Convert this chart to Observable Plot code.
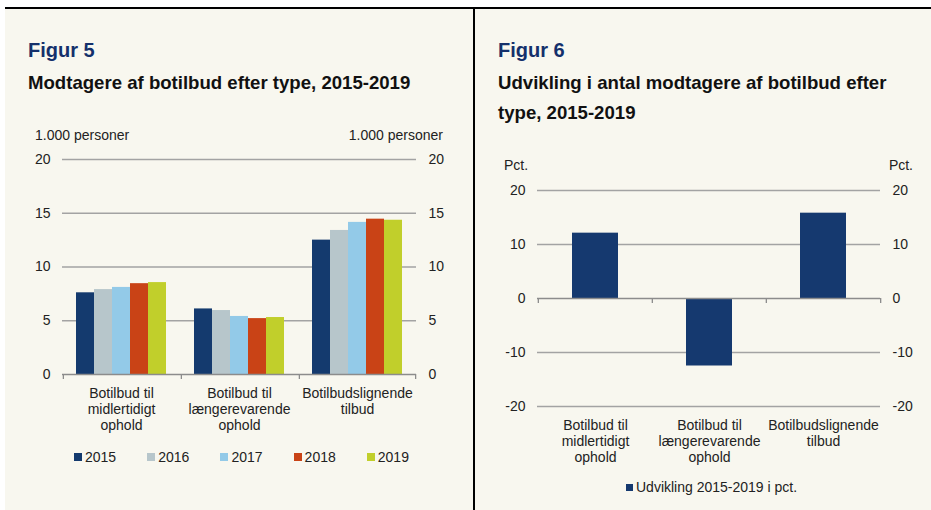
<!DOCTYPE html>
<html>
<head>
<meta charset="utf-8">
<script src="https://cdn.jsdelivr.net/npm/d3@7"></script>
<script src="https://cdn.jsdelivr.net/npm/@observablehq/plot@0.6"></script>
<style>
  html, body { margin: 0; padding: 0; background: #ffffff; }
  #root { position: relative; width: 931px; height: 510px; overflow: hidden; font-family: "Liberation Sans", Arial, sans-serif; color: #1e1e1e; }
  #frame { position: absolute; left: 5px; top: 7px; right: 0; bottom: 0; background: #f8f7ef; border-top: 2px solid #000; }
  #divider { position: absolute; left: 473px; top: 7px; width: 2px; bottom: 0; background: #000; }
  .abs { position: absolute; white-space: nowrap; }
  .fig { font-weight: bold; font-size: 20px; line-height: 20px; color: #14306b; }
  .sub { font-weight: bold; font-size: 18.6px; line-height: 30px; color: #111; }
  .unit { font-size: 14px; line-height: 14px; color: #222; }
  .leg { position: absolute; font-size: 14px; line-height: 14px; height: 14px; color: #222; white-space: nowrap; }
  .leg .sw { position: absolute; left: 0; top: 3px; width: 8px; height: 8px; }
  .leg .tx { position: absolute; left: 11px; top: 0; }
  svg.chart { position: absolute; }
</style>
</head>
<body>
<div id="root">
  <div id="frame"></div>
  <div id="divider"></div>
  <div class="abs fig" style="left:28px; top:40px;">Figur 5</div>
  <div class="abs sub" style="left:28px; top:68px;">Modtagere af botilbud efter type, 2015-2019</div>
  <div class="abs unit" style="left:35px; top:128px;">1.000 personer</div>
  <div class="abs unit" style="right:488px; top:128px;">1.000 personer</div>

  <div class="abs fig" style="left:498px; top:40px;">Figur 6</div>
  <div class="abs sub" style="left:498px; top:68px;">Udvikling i antal modtagere af botilbud efter<br>type, 2015-2019</div>
  <div class="abs unit" style="left:504px; top:158px;">Pct.</div>
  <div class="abs unit" style="right:18px; top:158px;">Pct.</div>
</div>
<script>
// ---- data ----
const categories = [
  "Botilbud til\nmidlertidigt\nophold",
  "Botilbud til\nlængerevarende\nophold",
  "Botilbudslignende\ntilbud"
];
const years = ["2015", "2016", "2017", "2018", "2019"];
const values2015 = [7.6, 6.1, 12.5];
const values2016 = [7.9, 5.95, 13.4];
const values2017 = [8.1, 5.4, 14.15];
const values2018 = [8.45, 5.2, 14.45];
const values2019 = [8.55, 5.3, 14.35];
const yearColors = ["#143a6e", "#b7c6cb", "#93cae8", "#c94316", "#c1cf2b"];
const leftTicks = [0, 5, 10, 15, 20];

const changePct = [12.1, -12.5, 15.8];
const changeLabel = "Udvikling 2015-2019 i pct.";
const changeColor = "#15396f";
const rightTicks = [-20, -10, 0, 10, 20];

// ---- build tables ----
const seriesByYear = [values2015, values2016, values2017, values2018, values2019];
const leftData = [];
years.forEach((y, yi) => categories.forEach((c, ci) => leftData.push({cat: c, year: y, value: seriesByYear[yi][ci]})));
const rightData = categories.map((c, i) => ({cat: c, value: changePct[i]}));

const root = document.getElementById("root");
const font = "\"Liberation Sans\", Arial, sans-serif";
const gridColor = "#a3a3a3";
const axisColor = "#8c8c8c";

// ---- left chart ----
const L = {width: 470, height: 296, ml: 62, mr: 54, mt: 14, mb: 67, po: 0.7};
const facetW = (L.width - L.ml - L.mr) / categories.length;
const step = facetW / (years.length + 2 * L.po);
const edge = (L.po + 0.5) * step;

const left = Plot.plot({
  width: L.width, height: L.height,
  marginLeft: L.ml, marginRight: L.mr, marginTop: L.mt, marginBottom: L.mb,
  style: {background: "transparent", overflow: "visible", fontFamily: font, fontSize: "14px", color: "#222", maxWidth: "none"},
  fx: {domain: categories, padding: 0, axis: null, label: null},
  x: {domain: years, paddingInner: 0, paddingOuter: L.po, axis: null, label: null},
  y: {domain: [0, 20], axis: null, label: null},
  color: {domain: years, range: yearColors},
  marks: [
    Plot.gridY(leftTicks.filter(d => d !== 0), {stroke: gridColor, strokeOpacity: 1, strokeWidth: 1.3}),
    Plot.barY(leftData, {fx: "cat", x: "year", y: "value", fill: "year"}),
    Plot.ruleY([0], {stroke: axisColor, strokeWidth: 1.3}),
    Plot.ruleX(categories, {fx: d => d, x: () => years[0], y1: 0, y2: 0, insetBottom: -5, dx: -edge, stroke: axisColor, strokeWidth: 1.3}),
    Plot.ruleX(categories.slice(-1), {fx: d => d, x: () => years[years.length - 1], y1: 0, y2: 0, insetBottom: -5, dx: edge, stroke: axisColor, strokeWidth: 1.3}),
    Plot.axisY(leftTicks, {anchor: "left", tickSize: 0, tickPadding: 12, label: null, fontSize: 14}),
    Plot.axisY(leftTicks, {anchor: "right", tickSize: 0, tickPadding: 12, label: null, fontSize: 14}),
    Plot.axisFx({anchor: "bottom", tickSize: 0, tickPadding: 12, label: null, fontSize: 14, lineHeight: 16 / 14})
  ]
});
left.classList.add("chart");
left.style.left = "0px";
left.style.top = "145px";
root.appendChild(left);

// ---- right chart ----
const R = {width: 456, height: 300, ml: 62, mr: 51, mt: 15, mb: 69};
const rStep = (R.width - R.ml - R.mr) / categories.length;

const right = Plot.plot({
  width: R.width, height: R.height,
  marginLeft: R.ml, marginRight: R.mr, marginTop: R.mt, marginBottom: R.mb,
  style: {background: "transparent", overflow: "visible", fontFamily: font, fontSize: "14px", color: "#222", maxWidth: "none"},
  x: {domain: categories, paddingInner: 0.6, paddingOuter: 0.3, axis: null, label: null},
  y: {domain: [-20, 20], axis: null, label: null},
  marks: [
    Plot.gridY(rightTicks.filter(d => d !== 0), {stroke: gridColor, strokeOpacity: 1, strokeWidth: 1.3}),
    Plot.barY(rightData, {x: "cat", y: "value", fill: changeColor}),
    Plot.ruleY([0], {stroke: axisColor, strokeWidth: 1.3}),
    Plot.ruleX(categories, {x: d => d, y1: 0, y2: 0, insetBottom: -5, dx: -rStep / 2, stroke: axisColor, strokeWidth: 1.3}),
    Plot.ruleX(categories.slice(-1), {x: d => d, y1: 0, y2: 0, insetBottom: -5, dx: rStep / 2, stroke: axisColor, strokeWidth: 1.3}),
    Plot.axisY(rightTicks, {anchor: "left", tickSize: 0, tickPadding: 12, label: null, fontSize: 14, tickFormat: d => String(d)}),
    Plot.axisY(rightTicks, {anchor: "right", tickSize: 0, tickPadding: 12, label: null, fontSize: 14, tickFormat: d => String(d)}),
    Plot.axisX({anchor: "bottom", tickSize: 0, tickPadding: 12, label: null, fontSize: 14, lineHeight: 16 / 14})
  ]
});
right.classList.add("chart");
right.style.left = "475px";
right.style.top = "175px";
root.appendChild(right);

// ---- legends ----
years.forEach((y, i) => {
  const item = document.createElement("div");
  item.className = "leg";
  item.style.left = (74 + i * 73.2) + "px";
  item.style.top = "450px";
  item.innerHTML = `<span class="sw" style="background:${yearColors[i]}"></span><span class="tx">${y}</span>`;
  root.appendChild(item);
});
const rItem = document.createElement("div");
rItem.className = "leg";
rItem.style.left = "626px";
rItem.style.top = "480px";
rItem.innerHTML = `<span class="sw" style="background:${changeColor}; width:7px; height:7px; top:3.5px"></span><span class="tx" style="left:10px">${changeLabel}</span>`;
root.appendChild(rItem);
</script>
</body>
</html>
